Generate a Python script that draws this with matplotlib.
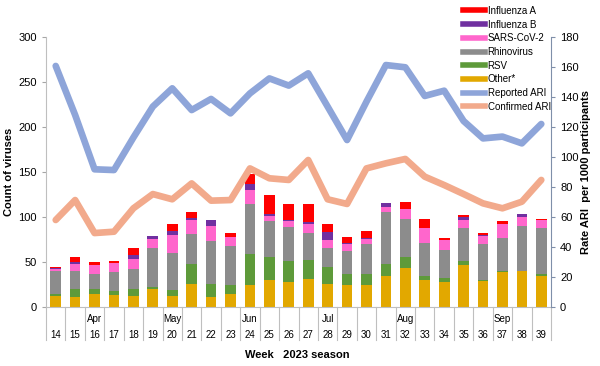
import matplotlib
matplotlib.use("Agg")
import matplotlib.pyplot as plt
import matplotlib.transforms as mtransforms
from matplotlib.lines import Line2D
import numpy as np

plt.rcParams["font.family"] = ["Liberation Sans", "DejaVu Sans"]

weeks = [14, 15, 16, 17, 18, 19, 20, 21, 22, 23, 24, 25, 26,
         27, 28, 29, 30, 31, 32, 33, 34, 35, 36, 37, 38, 39]
months = {16: "Apr", 20: "May", 24: "Jun", 28: "Jul", 32: "Aug", 37: "Sep"}

# virus counts per week (stacked, bottom to top)
other = [12, 11.5, 15, 13.5, 12, 20.5, 12, 25.5, 11.5, 14, 24, 30.5, 28,
         31, 25.5, 24, 24, 34, 43, 30.5, 28, 47, 29, 39, 40, 34]
rsv = [3, 8, 4.5, 4, 8.5, 1.5, 6.5, 22.5, 14, 11, 35, 25, 23,
       21, 19, 13, 13, 14, 12.5, 4.5, 4, 4.5, 1.5, 1, 0.5, 3]
rhino = [25, 20.5, 17.5, 21, 22, 43.5, 41.5, 33.5, 47.5, 42.5, 55, 40.5, 38,
         30, 21.5, 25, 32.5, 57.5, 42.5, 36, 31.5, 36.5, 39, 37, 50, 50.5]
sars = [2, 8, 10, 10, 11, 10, 20, 15, 17.5, 10.5, 15.5, 5.5, 6.5,
        10, 9, 8.5, 6, 5.5, 11, 17, 10.5, 8.5, 9.5, 15, 10, 9]
flu_b = [1.5, 1.5, 0, 0, 4.5, 3.5, 5, 2.5, 6, 0, 7.5, 2, 1.5,
         2.5, 8, 0.5, 1.5, 4.5, 0, 0, 0, 3, 0.5, 0, 3, 0]
flu_a = [1.5, 6, 3.5, 2.5, 7.5, 0, 7, 6, 0, 4, 11, 21.5, 18,
         20.5, 9, 7, 7.5, 0, 7.5, 10, 3, 2.5, 2.5, 3.5, 0, 1.5]

# rates per 1000 participants
reported_ari = [160.7, 128, 91.8, 91.3, 113, 133.6, 145.8, 131.3, 138.7, 129.1,
                142.4, 152.4, 147.6, 155.8, 133.6, 111.3, 136.9, 161.3, 159.8,
                140.7, 144.2, 124, 112.4, 113.6, 109.1, 122]
confirmed_ari = [58, 71.3, 49.3, 50.2, 65.8, 75.3, 71.8, 82.4, 70.9, 71.3,
                 92.4, 85.8, 84.7, 98, 71.8, 68.7, 92.4, 95.8, 98.7,
                 86.9, 81.3, 75.3, 69.1, 65.8, 70.2, 84.7]

series = [
    ("Other*", other, "#E2A800"),
    ("RSV", rsv, "#5E9A3A"),
    ("Rhinovirus", rhino, "#8C8C8C"),
    ("SARS-CoV-2", sars, "#FF66CC"),
    ("Influenza B", flu_b, "#7030A0"),
    ("Influenza A", flu_a, "#FF0000"),
]
blue = "#8EA5D9"
salmon = "#F2AA8C"

fig = plt.figure(figsize=(6, 3.66), dpi=100)
ax = fig.add_axes([46 / 600, 59 / 366, 505 / 600, 270 / 366])
x = np.arange(len(weeks))

bottom = np.zeros(len(weeks))
for name, vals, color in series:
    ax.bar(x, vals, 0.55, bottom=bottom, color=color, linewidth=0)
    bottom += np.array(vals)

ax.set_xlim(-0.5, len(weeks) - 0.5)
ax.set_ylim(0, 300)
ax.set_yticks(range(0, 301, 50))
ax.tick_params(axis="y", labelsize=8, length=3, color="#A6A6A6")
ax.set_xticks([])
ax.set_ylabel("Count of viruses", fontsize=8, fontweight="bold", labelpad=3)
for s in ["top", "right"]:
    ax.spines[s].set_visible(False)
ax.spines["left"].set_color("#BFBFBF")
ax.spines["bottom"].set_color("#BFBFBF")

# category table under the axis
trans = mtransforms.blended_transform_factory(ax.transData, ax.transAxes)
for b in np.arange(len(weeks) + 1) - 0.5:
    ax.plot([b, b], [0, -0.122], transform=trans, color="#BFBFBF", lw=0.8,
            clip_on=False)
for i, w in enumerate(weeks):
    ax.text(i, -0.105, str(w), transform=trans, ha="center", va="center",
            fontsize=7)
    if w in months:
        ax.text(i, -0.045, months[w], transform=trans, ha="center",
                va="center", fontsize=7)
fig.text(297 / 600, 1 - 355 / 366, "Week   2023 season", ha="center",
         va="center", fontsize=8, fontweight="bold")

ax2 = ax.twinx()
ax2.plot(x, reported_ari, color=blue, lw=4.8, solid_joinstyle="round",
         solid_capstyle="round")
ax2.plot(x, confirmed_ari, color=salmon, lw=4.8, solid_joinstyle="round",
         solid_capstyle="round")
ax2.set_ylim(0, 180)
ax2.set_yticks(range(0, 181, 20))
ax2.tick_params(axis="y", labelsize=8, length=3, color="#7F8FA9")
ax2.set_ylabel("Rate ARI  per 1000 participants", fontsize=8,
               fontweight="bold", labelpad=2)
for s in ["top", "left", "bottom"]:
    ax2.spines[s].set_visible(False)
ax2.spines["right"].set_color("#7F8FA9")

handles = [Line2D([], [], color=c, lw=4) for _, _, c in series[::-1]]
labels = [n for n, _, _ in series[::-1]]
handles += [Line2D([], [], color=blue, lw=4), Line2D([], [], color=salmon, lw=4)]
labels += ["Reported ARI", "Confirmed ARI"]
fig.legend(handles, labels, loc="upper left",
           bbox_to_anchor=(459 / 600, 1 - 2 / 366), frameon=False,
           fontsize=7, handlelength=2.3, handletextpad=0.25,
           labelspacing=0.38, borderaxespad=0)

fig.savefig("out.png", dpi=100)
